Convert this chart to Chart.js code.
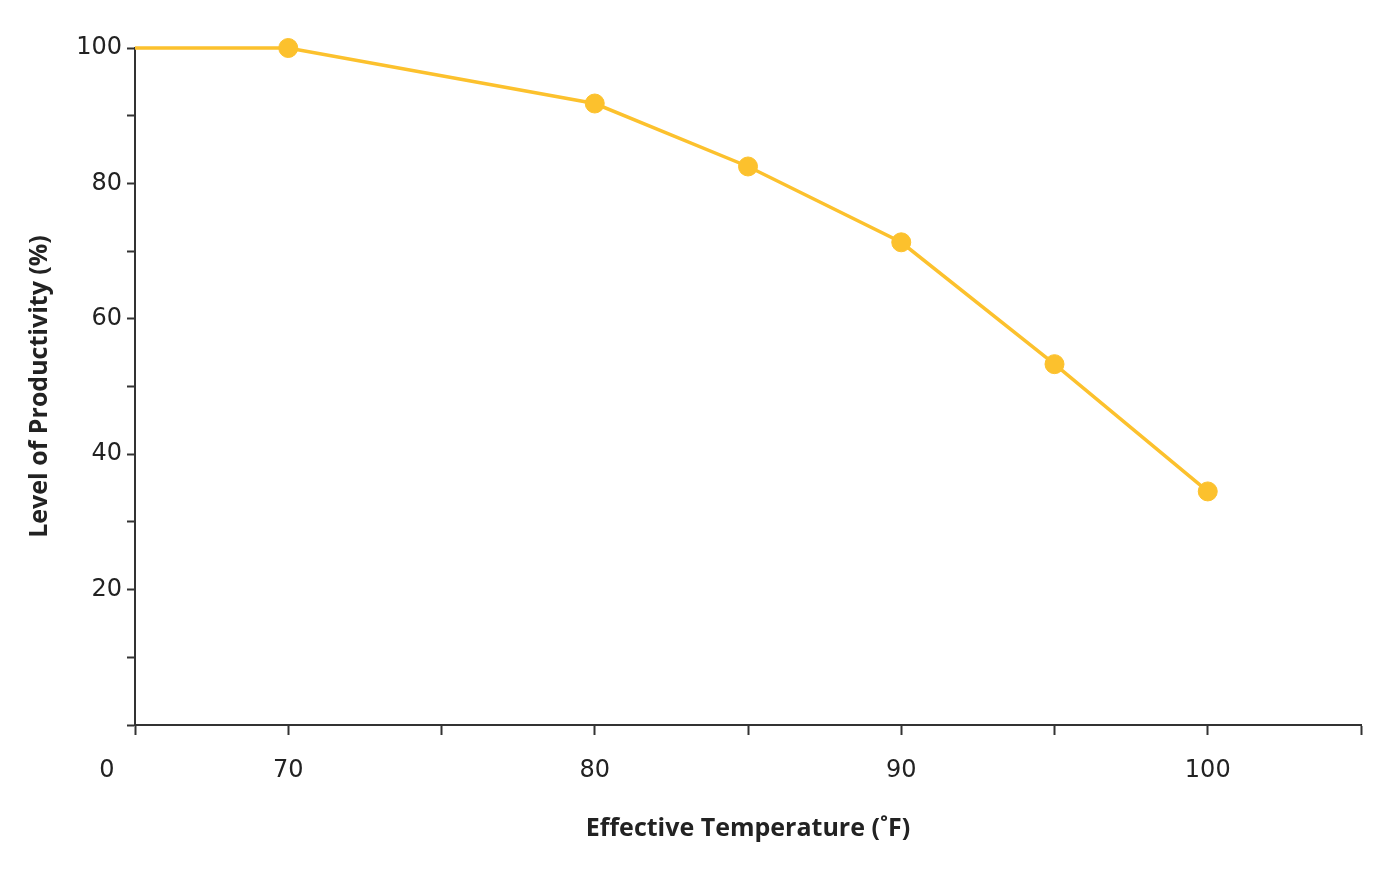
<!DOCTYPE html>
<html>
<head>
<meta charset="utf-8">
<title>Effective Temperature vs Productivity</title>
<script src="https://cdn.jsdelivr.net/npm/chart.js@4/dist/chart.umd.min.js"></script>
<style>
    body { margin: 0; background: #fff; }
    #wrap { width: 1400px; height: 871px; }
</style>
</head>
<body>
<div id="wrap"><canvas id="productivityChart" width="1400" height="871"></canvas></div>
<script>
// axis origin is drawn at 65 and labelled "0" (broken axis)
const temperatures = [65, 70, 80, 85, 90, 95, 100];
const productivity = [100, 100, 91.8, 82.5, 71.3, 53.3, 34.5];
const markerSizes = [0, 9.5, 9.5, 9.5, 9.5, 9.5, 9.5];
const xLabels = [70, 80, 90, 100];
const yLabels = [20, 40, 60, 80, 100];

const lineColor = '#fcc12d';
const axisColor = '#333333';
const tickFont = { family: 'DejaVu Sans', size: 24 };
const titleFont = { family: 'Open Sans', size: 25, weight: 'bold', lineHeight: 1.1 };

// draws the "0" under the origin, left of the first tick
const originLabel = {
    id: 'originLabel',
    afterDraw(chart) {
        const x = chart.scales.x;
        const ctx = chart.ctx;
        ctx.save();
        ctx.font = tickFont.size + 'px "' + tickFont.family + '"';
        ctx.fillStyle = '#222';
        ctx.textAlign = 'center';
        ctx.textBaseline = 'middle';
        ctx.fillText('0', x.getPixelForValue(65) - 28, x.top + 46);
        ctx.restore();
    }
};

const ctx = document.getElementById('productivityChart');

new Chart(ctx, {
    type: 'line',
    data: {
        datasets: [{
            label: 'Level of Productivity',
            data: temperatures.map((t, i) => ({ x: t, y: productivity[i] })),
            borderColor: lineColor,
            backgroundColor: lineColor,
            borderWidth: 3.5,
            tension: 0,
            fill: false,
            pointRadius: markerSizes,
            pointHoverRadius: markerSizes,
            pointBorderWidth: 1,
            pointBackgroundColor: lineColor,
            pointBorderColor: lineColor,
            clip: false
        }]
    },
    options: {
        responsive: false,
        animation: false,
        layout: {
            padding: { top: 48, right: 39, left: 0, bottom: 0 }
        },
        plugins: {
            legend: { display: false },
            tooltip: { enabled: false }
        },
        scales: {
            x: {
                type: 'linear',
                min: 65,
                max: 105,
                afterFit: (scale) => { scale.height = 146; },
                border: { display: true, color: axisColor, width: 2 },
                grid: {
                    drawOnChartArea: false,
                    drawTicks: true,
                    tickLength: 10,
                    tickWidth: 2,
                    tickColor: axisColor
                },
                ticks: {
                    stepSize: 5,
                    autoSkip: false,
                    maxRotation: 0,
                    padding: 21,
                    color: '#222',
                    font: tickFont,
                    callback: (v) => xLabels.includes(v) ? String(v) : ''
                },
                title: {
                    display: true,
                    text: 'Effective Temperature (˚F)',
                    color: '#222',
                    font: titleFont,
                    padding: { top: 0, bottom: 28 }
                }
            },
            y: {
                min: 0,
                max: 100,
                afterFit: (scale) => { scale.width = 135; },
                border: { display: true, color: axisColor, width: 2 },
                grid: {
                    drawOnChartArea: false,
                    drawTicks: true,
                    tickLength: 8,
                    tickWidth: 2,
                    tickColor: axisColor
                },
                ticks: {
                    stepSize: 10,
                    autoSkip: false,
                    padding: 5,
                    color: '#222',
                    font: tickFont,
                    callback: (v) => yLabels.includes(v) ? String(v) : ''
                },
                title: {
                    display: true,
                    text: 'Level of Productivity (%)',
                    color: '#222',
                    font: titleFont,
                    padding: { top: 26, bottom: 0 }
                }
            }
        }
    },
    plugins: [originLabel]
});
</script>
</body>
</html>
